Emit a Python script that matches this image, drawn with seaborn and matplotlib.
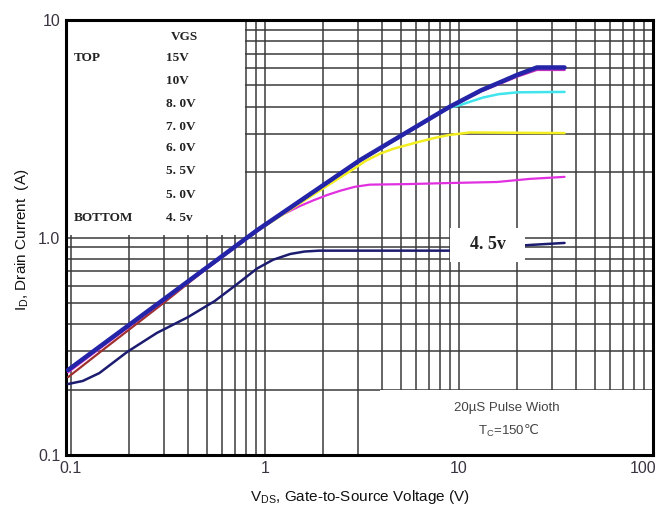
import numpy as np
import pandas as pd
import matplotlib
matplotlib.use("Agg")
import matplotlib.pyplot as plt
import matplotlib.transforms as mtrans
import seaborn as sns
from matplotlib.patches import Rectangle
from matplotlib.ticker import FixedLocator, LogLocator, NullFormatter

# ---- data ----
vds_15 = [0.0966, 0.288, 0.91, 3.09, 8.9, 13.0, 16.1, 20.0, 25.2, 35]
id_15 = [0.246, 0.505, 1.08, 2.27, 3.98, 4.75, 5.15, 5.6, 6.05, 6.05]

vds_10 = [0.0966, 0.288, 0.91, 3.09, 8.9, 13.0, 16.1, 20.0, 25.2, 35]
id_10 = [0.244, 0.50, 1.07, 2.25, 3.95, 4.7, 5.08, 5.5, 5.9, 5.9]

vds_8 = [0.0966, 0.91, 3.09, 8.9, 10.1, 11.5, 13.3, 16.0, 20.0, 35]
id_8 = [0.245, 1.07, 2.25, 3.95, 4.06, 4.22, 4.40, 4.56, 4.65, 4.67]

vds_7 = [0.0966, 0.91, 2.2, 2.85, 3.3, 3.92, 4.6, 6.08, 7.5, 8.88, 11.4, 35]
id_7 = [0.244, 1.07, 1.78, 2.06, 2.25, 2.43, 2.56, 2.74, 2.87, 2.96, 3.04, 3.02]

vds_6 = [0.0966, 0.5, 0.98, 1.2, 1.5, 1.77, 2.1, 2.44, 2.9, 3.47, 5.4, 8.9, 15.7, 23.2, 35]
id_6 = [0.240, 0.72, 1.12, 1.26, 1.39, 1.48, 1.57, 1.64, 1.71, 1.75, 1.76, 1.78, 1.80, 1.86, 1.90]

vds_5 = [0.0966, 0.15, 0.30, 0.50]
id_5 = [0.228, 0.31, 0.50, 0.72]

vds_45 = [0.0966, 0.115, 0.14, 0.195, 0.277, 0.40, 0.55, 0.7, 0.91, 1.1, 1.35, 1.6, 1.9, 9.0, 23.2, 35]
id_45 = [0.212, 0.219, 0.238, 0.298, 0.364, 0.43, 0.51, 0.60, 0.72, 0.79, 0.84, 0.862, 0.87, 0.87, 0.924, 0.944]

legend_vgs = ["15V", "10V", "8. 0V", "7. 0V", "6. 0V", "5. 5V", "5. 0V", "4. 5v"]
x_ticks = [0.1, 1, 10, 100]
x_ticklabels = ["0.1", "1", "10", "100"]
y_ticks = [0.1, 1, 10]
y_ticklabels = ["0.1", "1.0", "10"]

# ---- figure ----
sns.set_style("white")
plt.rcParams['font.family'] = ['Liberation Sans', 'DejaVu Sans']
plt.rcParams['mathtext.fontset'] = 'custom'
plt.rcParams['mathtext.rm'] = 'Liberation Sans'
plt.rcParams['mathtext.it'] = 'Liberation Sans'
fig = plt.figure(figsize=(6.61, 5.11), dpi=100)
ax = fig.add_axes([66 / 661, 1 - 455 / 511, 587 / 661, 435 / 511])
ax.set_xscale("log")
ax.set_yscale("log")
xlo = 10 ** (-1 - 5 / 194)
ax.set_xlim(xlo, 100)
ax.set_ylim(0.1, 10)

ax.xaxis.set_major_locator(FixedLocator(x_ticks))
ax.yaxis.set_major_locator(FixedLocator(y_ticks))
ax.xaxis.set_minor_locator(LogLocator(base=10, subs=np.arange(2, 10)))
ax.yaxis.set_minor_locator(LogLocator(base=10, subs=np.arange(2, 10)))
ax.xaxis.set_minor_formatter(NullFormatter())
ax.yaxis.set_minor_formatter(NullFormatter())
ax.set_xticklabels(x_ticklabels)
ax.set_yticklabels(y_ticklabels)
ax.tick_params(which="both", length=0, labelsize=11.5, labelcolor="#3a3340", pad=4)
ax.grid(which="both", color="#3a3a3a", lw=1.1, zorder=0.5)
ax.set_axisbelow(True)

# keep "100" inside the figure
lbl = ax.get_xticklabels()[-1]
lbl.set_transform(lbl.get_transform() + mtrans.ScaledTranslation(-10 / 100, 0, fig.dpi_scale_trans))

for s in ax.spines.values():
    s.set_color("black")
    s.set_linewidth(2.2)

# white areas of the scanned chart (legend block, note block)
ax.add_patch(Rectangle((xlo, 1.027), 0.789 - xlo, 10 - 1.027, facecolor="white",
                       edgecolor="none", zorder=1))
ax.add_patch(Rectangle((3.92, 0.1), 100 - 3.92, 0.199 - 0.1, facecolor="white",
                       edgecolor="none", zorder=1))

series = [
    (vds_45, id_45, "#1c1c70", 1.8),
    (vds_5, id_5, "#a03030", 1.6),
    (vds_6, id_6, "#e030e0", 1.6),
    (vds_7, id_7, "#f2ee20", 1.8),
    (vds_8, id_8, "#40e4ec", 1.8),
    (vds_10, id_10, "#c030c0", 1.8),
    (vds_15, id_15, "#2424a8", 3.2),
]
for xs, ys, c, lw in series:
    df = pd.DataFrame({"vds": xs, "id": ys})
    sns.lineplot(data=df, x="vds", y="id", color=c, lw=lw, ax=ax, zorder=3,
                 estimator=None, sort=False)

ax.set_xlabel("")
ax.set_ylabel("")

# 4.5v label box
ax.add_patch(Rectangle((9.0, 0.77), 21.9 - 9.0, 1.106 - 0.77, facecolor="white",
                       edgecolor="none", zorder=4))
serif = ["Liberation Serif", "DejaVu Serif"]
ax.text(10 ** ((np.log10(9.0) + np.log10(21.9)) / 2), 0.93, "4. 5v", family=serif,
        fontweight="bold", fontsize=13, ha="center", va="center", color="#222222", zorder=5)


# legend block text (pixel positions converted to axes fractions)
def axpos(px, py):
    return ((px - 66) / 587, 1 - (py - 20) / 435)


ax.text(*axpos(184, 37), "VGS", transform=ax.transAxes, family=serif, fontweight="bold",
        fontsize=9.5, ha="center", va="center", color="#222222", zorder=5)
ax.text(*axpos(74, 58), "TOP", transform=ax.transAxes, family=serif, fontweight="bold",
        fontsize=9.5, ha="left", va="center", color="#222222", zorder=5)
ax.text(*axpos(74, 218), "BOTTOM", transform=ax.transAxes, family=serif, fontweight="bold",
        fontsize=9.5, ha="left", va="center", color="#222222", zorder=5)
row_y = [58, 81, 104, 127, 148, 171, 195, 218]
for lab, py in zip(legend_vgs, row_y):
    ax.text(*axpos(166, py), lab, transform=ax.transAxes, family=serif, fontweight="bold",
            fontsize=9.5, ha="left", va="center", color="#222222", zorder=5)

# note block
ax.text(*axpos(507, 408), "20µS Pulse Wioth", transform=ax.transAxes, fontsize=9.5,
        ha="center", va="center", color="#444444", zorder=5)
ax.text(*axpos(525, 431), "T$_C$=150", transform=ax.transAxes, fontsize=9.5,
        ha="right", va="center", color="#444444", zorder=5)
ax.text(*axpos(524, 430), "℃", transform=ax.transAxes, fontsize=9.5,
        ha="left", va="center", color="#444444", zorder=5, family=["DejaVu Sans"])

# axis titles
fig.text(360 / 661, 1 - 497 / 511, "V$_{DS}$, Gate-to-Source Voltage (V)", fontsize=11,
         ha="center", va="center", color="#111111")
fig.text(22 / 661, 1 - 240 / 511, "I$_D$, Drain Current  (A)", fontsize=11, rotation=90,
         ha="center", va="center", color="#111111")

fig.savefig("out.png", dpi=100)
